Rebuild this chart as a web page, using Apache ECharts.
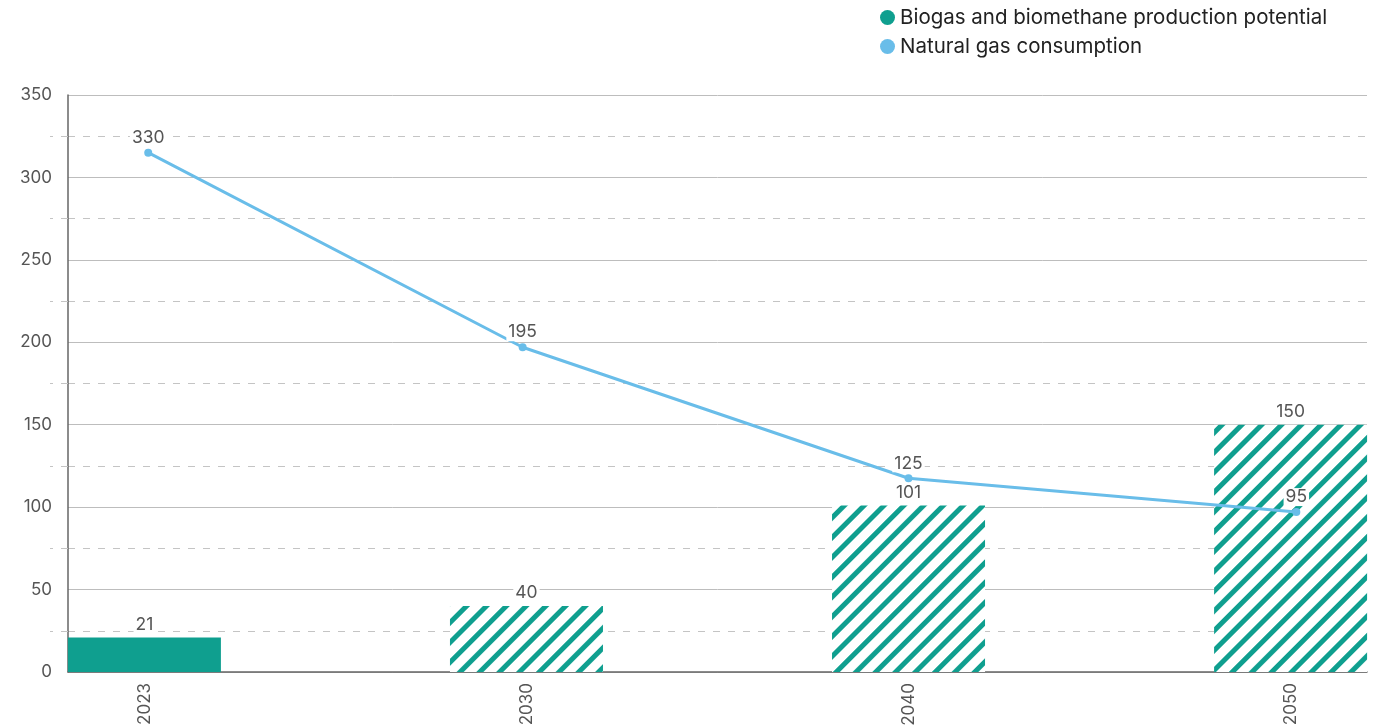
<!DOCTYPE html>
<html>
<head>
<meta charset="utf-8">
<script src="https://cdn.jsdelivr.net/npm/echarts@6/dist/echarts.min.js"></script>
<style>
html,body{margin:0;padding:0;background:#fff;}
#chart{width:1373px;height:725px;}
</style>
</head>
<body>
<div id="chart"></div>
<script>
var years = ['2023', '2030', '2040', '2050'];
var biogasValues = [21, 40, 101, 150];
var biogasHatched = [false, true, true, true];
var gasX = [0.01, 0.99, 2, 3.015];
var gasValues = [315, 197, 117.5, 97];
var gasLabels = ['330', '195', '125', '95'];
var yTicks = [0, 50, 100, 150, 200, 250, 300, 350];

var TEAL = '#0f9f8f';
var BLUE = '#69bde9';
var FONT = 'Inter, "Noto Sans", sans-serif';

var hatch = {
  symbol: 'rect',
  symbolSize: 1,
  dashArrayX: [1, 0],
  dashArrayY: [5, 9],
  rotation: -Math.PI / 4,
  color: TEAL
};

var barData = biogasValues.map(function (v, i) {
  var d = { value: [i, v] };
  if (biogasHatched[i]) {
    d.itemStyle = { color: '#fff', decal: hatch };
  }
  return d;
});
var lineData = gasValues.map(function (v, i) {
  return { value: [gasX[i], v], label: { formatter: gasLabels[i] } };
});

var chart = echarts.init(document.getElementById('chart'));
chart.setOption({
  animation: false,
  aria: { enabled: true, decal: { show: false } },
  textStyle: { fontFamily: FONT },
  legend: {
    orient: 'vertical',
    left: 875,
    top: 2,
    itemWidth: 15,
    itemHeight: 15,
    itemGap: 8,
    icon: 'circle',
    textStyle: { fontSize: 20.5, color: '#222', fontFamily: FONT },
    data: ['Biogas and biomethane production potential', 'Natural gas consumption']
  },
  grid: { left: 68, right: 6, top: 95, bottom: 53, containLabel: false, outerBoundsMode: 'none' },
  xAxis: {
    type: 'value',
    min: -0.2,
    max: 3.2,
    splitLine: { show: false },
    axisLine: { show: true, onZero: false, lineStyle: { color: '#666', width: 1.5 } },
    axisTick: { show: false },
    axisLabel: {
      customValues: [0, 1, 2, 3],
      rotate: 90,
      margin: 11,
      fontSize: 17,
      color: '#555',
      fontFamily: FONT,
      formatter: function (v) { return years[Math.round(v)]; }
    }
  },
  yAxis: {
    type: 'value',
    min: yTicks[0],
    max: yTicks[yTicks.length - 1],
    interval: 50,
    axisLine: { show: true, onZero: false, lineStyle: { color: '#666', width: 1.5 } },
    axisTick: { show: false },
    axisLabel: { fontSize: 17, color: '#555', margin: 16, fontFamily: FONT },
    splitLine: { show: true, lineStyle: { color: '#bdbdbd', width: 1 } },
    minorTick: { show: true, splitNumber: 2, length: 18, lineStyle: { color: '#c4c4c4', type: [7, 8], width: 1 } },
    minorSplitLine: { show: true, lineStyle: { color: '#c4c4c4', type: [7, 8], width: 1 } }
  },
  series: [
    {
      name: 'Biogas and biomethane production potential',
      type: 'bar',
      barWidth: 153,
      itemStyle: { color: TEAL },
      label: {
        show: true,
        position: 'top',
        distance: 4,
        fontSize: 17.5,
        color: '#555',
        fontFamily: FONT,
        backgroundColor: '#fff',
        padding: [0, 2],
        formatter: function (p) { return p.value[1]; }
      },
      data: barData
    },
    {
      name: 'Natural gas consumption',
      type: 'line',
      z: 5,
      symbol: 'circle',
      symbolSize: 8,
      itemStyle: { color: BLUE },
      lineStyle: { color: BLUE, width: 3 },
      label: {
        show: true,
        position: 'top',
        distance: 2,
        fontSize: 17.5,
        color: '#555',
        fontFamily: FONT,
        backgroundColor: '#fff',
        padding: [0, 2]
      },
      data: lineData
    }
  ]
});
</script>
</body>
</html>
